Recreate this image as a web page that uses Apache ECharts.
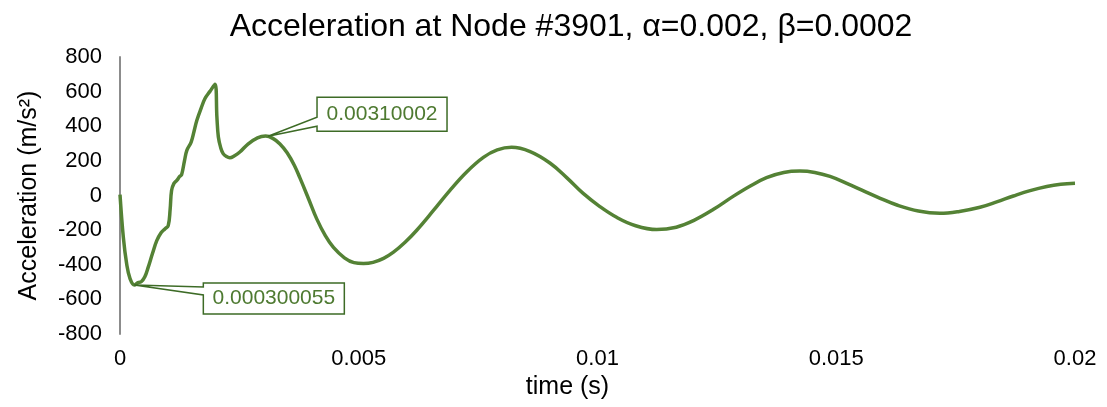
<!DOCTYPE html>
<html>
<head>
<meta charset="utf-8">
<script src="https://cdn.jsdelivr.net/npm/echarts@6/dist/echarts.min.js"></script>
<style>html,body{margin:0;padding:0;background:#fff}#c{width:1107px;height:407px}</style>
</head>
<body>
<div id="c"></div>
<script>
const titleText = 'Acceleration at Node #3901, α=0.002, β=0.0002';
const xName = 'time (s)';
const yName = 'Acceleration (m/s²)';
const xTicks = [0, 0.005, 0.01, 0.015, 0.02];
const yTicks = [-800, -600, -400, -200, 0, 200, 400, 600, 800];
const times = [0,0.00007,0.00014,0.00021,0.0003,0.00038,0.00045,0.00052,0.00059,0.00068,0.00077,0.00086,0.00094,0.00101,0.00105,0.00108,0.00113,0.00119,0.00125,0.00129,0.00135,0.0014,0.00149,0.00155,0.00161,0.0017,0.00178,0.00188,0.00199,0.00203,0.00206,0.00211,0.00216,0.00223,0.0023,0.0024,0.00251,0.00268,0.00288,0.00305,0.0032,0.00335,0.0035,0.00365,0.00377,0.00395,0.00412,0.0043,0.00447,0.0047,0.0049,0.0051,0.0053,0.00552,0.00572,0.00597,0.00621,0.00656,0.00691,0.00726,0.00761,0.0079,0.0082,0.00859,0.00901,0.00936,0.0097,0.01005,0.0104,0.0108,0.01124,0.01165,0.01201,0.01243,0.01284,0.0132,0.01354,0.0139,0.01424,0.01455,0.01487,0.01522,0.01557,0.01592,0.01627,0.01672,0.01717,0.01758,0.01801,0.01836,0.01871,0.01906,0.01941,0.0197,0.02];
const accel = [5,-242,-396,-480,-517,-503,-497,-470,-415,-335,-261,-215,-193,-174,-80,29,70,87,110,120,200,261,309,370,435,505,560,600,643,450,338,275,242,225,218,230,251,297,333,343,330,298,247,175,100,-20,-135,-232,-300,-360,-388,-393,-386,-363,-329,-270,-202,-88,30,136,220,263,278,253,186,102,12,-64,-126,-175,-197,-183,-145,-80,-5,55,103,133,141,133,110,70,27,-16,-55,-90,-103,-92,-68,-37,-3,28,52,65,71];
const annTimes = [0.00310002, 0.000300055];
const annValues = [342, -517];
const annLabels = ['0.00310002', '0.000300055'];

const FONT = '"Liberation Sans", Arial, sans-serif';
const chart = echarts.init(document.getElementById('c'), null, {renderer: 'canvas'});
const data = times.map((t, i) => [t, accel[i]]);

chart.setOption({
  animation: false,
  backgroundColor: '#fff',
  title: {
    text: titleText, left: 566, top: 6, textAlign: 'center',
    textStyle: {fontFamily: FONT, fontSize: 32, fontWeight: 'normal', color: '#000'}
  },
  grid: {left: 120, right: 32, top: 57, height: 277, containLabel: false},
  xAxis: {
    type: 'value', min: xTicks[0], max: xTicks[xTicks.length - 1], interval: 0.005,
    name: xName, nameLocation: 'middle', nameGap: 40,
    nameTextStyle: {fontFamily: FONT, fontSize: 25, color: '#000', padding: [0, 60, 0, 0]},
    axisLine: {show: false}, axisTick: {show: false}, splitLine: {show: false},
    axisLabel: {fontFamily: FONT, fontSize: 22, color: '#000', margin: 14,
      formatter: v => String(parseFloat(v.toFixed(4)))}
  },
  yAxis: {
    type: 'value', min: yTicks[0], max: yTicks[yTicks.length - 1], interval: 200,
    name: yName, nameLocation: 'middle', nameGap: 78, nameRotate: 90,
    nameTextStyle: {fontFamily: FONT, fontSize: 25, color: '#000'},
    axisLine: {show: true, onZero: false, lineStyle: {color: '#8c8c8c', width: 2}},
    axisTick: {show: false}, splitLine: {show: false},
    axisLabel: {fontFamily: FONT, fontSize: 22, color: '#000', margin: 18}
  },
  series: [{
    type: 'line', data: data, smooth: 0.4, symbol: 'none',
    lineStyle: {color: '#548235', width: 3.5}
  }]
});

// callout boxes placed relative to annotated points (pixel offsets)
const boxes = [
  {dx: 49, dy: -39, w: 130, h: 34, b1: 20, b2: 29},
  {dx: 69, dy: -2, w: 141, h: 31, b1: 4, b2: 12}
];
const graphics = [];
annTimes.forEach((t, i) => {
  const p = chart.convertToPixel({seriesIndex: 0}, [t, annValues[i]]);
  const b = boxes[i];
  const x0 = p[0] + b.dx, y0 = p[1] + b.dy;
  graphics.push({
    type: 'polygon', z: 100,
    shape: {points: [[x0, y0], [x0 + b.w, y0], [x0 + b.w, y0 + b.h], [x0, y0 + b.h], [x0, y0 + b.b2], [p[0], p[1]], [x0, y0 + b.b1]]},
    style: {fill: '#fff', stroke: '#3d6b26', lineWidth: 1.5}
  });
  graphics.push({
    type: 'text', z: 101, x: x0 + b.w / 2, y: y0 + b.h / 2,
    style: {text: annLabels[i], font: '21px ' + FONT, fill: '#4e7a31', align: 'center', verticalAlign: 'middle'}
  });
});
chart.setOption({graphic: graphics});
</script>
</body>
</html>
